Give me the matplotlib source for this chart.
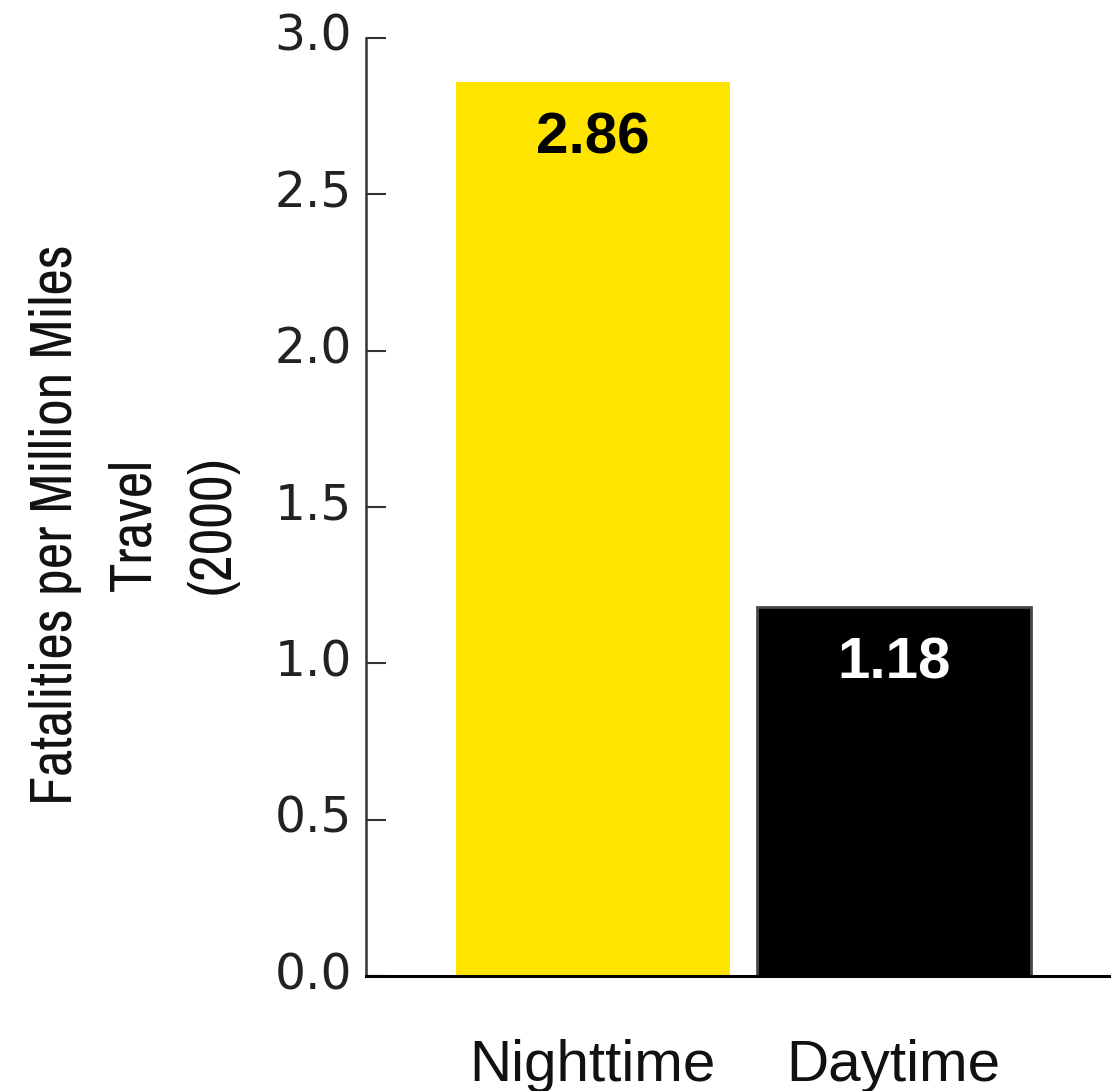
"""Fatalities per million miles, night vs day (2000)"""

import matplotlib

matplotlib.use("Agg")

import matplotlib.font_manager as fm
import matplotlib.pyplot as plt
from matplotlib.transforms import ScaledTranslation

# data
categories = ["Nighttime", "Daytime"]
rates = [2.86, 1.18]
bar_colors = ["#FFE400", "#000000"]
label_colors = ["#000000", "#FFFFFF"]
y_ticks = [0.0, 0.5, 1.0, 1.5, 2.0, 2.5, 3.0]


def _find_narrow_font():
    """找一个常规粗细的窄体字: 先 Narrow, 再 Condensed"""
    regular = [f for f in fm.fontManager.ttflist
               if f.style == "normal" and f.weight in (400, "normal", "regular")]
    for key in ("narrow", "condensed"):
        for f in regular:
            name = (f.name + " " + f.fname).lower()
            if key in name and "bold" not in name and "oblique" not in name:
                return key, f
    return None, None


narrow_kind, narrow = _find_narrow_font()

fig = plt.figure(figsize=(11.11, 10.91), dpi=100)
ax = fig.add_axes([0.3294, 0.1054, 0.6706, 0.8598])

x = range(len(categories))
bars = ax.bar(x, rates, width=0.91, color=bar_colors)
# the black bar has a thin grey outline
bars[1].set_edgecolor("#4a4a4a")
bars[1].set_linewidth(2)

for xi, val, c in zip(x, rates, label_colors):
    ax.text(xi, val - 0.23, f"{val:.2f}", ha="center", va="baseline",
            fontsize=42, fontweight="bold", color=c,
            family=["Liberation Sans", "DejaVu Sans"])

ax.set_xlim(-0.754, 1.722)
ax.set_ylim(0, 3.0)
ax.set_yticks(y_ticks)
ax.set_yticklabels([f"{t:.1f}" for t in y_ticks], fontsize=35, color="#222222")
ax.set_xticks(list(x))
ax.set_xticklabels(categories, fontsize=42, color="#111111",
                   family=["Liberation Sans", "DejaVu Sans"])

ax.tick_params(axis="y", direction="in", length=14.5, width=1.5,
               color="#333333", pad=10)
ax.tick_params(axis="x", length=0, pad=45)

# tick labels sit a little above their ticks in the original
shift = ScaledTranslation(0, 6 / 100, fig.dpi_scale_trans)
for lbl in ax.get_yticklabels():
    lbl.set_transform(lbl.get_transform() + shift)

for side in ("top", "right"):
    ax.spines[side].set_visible(False)
ax.spines["left"].set_color("#333333")
ax.spines["left"].set_linewidth(1.8)
ax.spines["bottom"].set_color("#000000")
ax.spines["bottom"].set_linewidth(2.2)

ylabel = "Fatalities per Million Miles\nTravel\n(2000)"
if narrow_kind == "narrow":
    ysize, yspacing = 42, 1.6
    yfont = fm.FontProperties(fname=narrow.fname, size=ysize)
elif narrow_kind == "condensed":
    ysize, yspacing = 34, 1.9
    yfont = fm.FontProperties(fname=narrow.fname, size=ysize)
else:
    ysize, yspacing = 31, 2.0
    yfont = fm.FontProperties(family=["Liberation Sans", "DejaVu Sans"], size=ysize)

fig.text(134 / 1111, 1 - 525 / 1091, ylabel,
         rotation=90, ha="center", va="center", multialignment="center",
         color="#111111", linespacing=yspacing, fontproperties=yfont)

fig.savefig("out.png", dpi=100, facecolor="white")
plt.close(fig)
